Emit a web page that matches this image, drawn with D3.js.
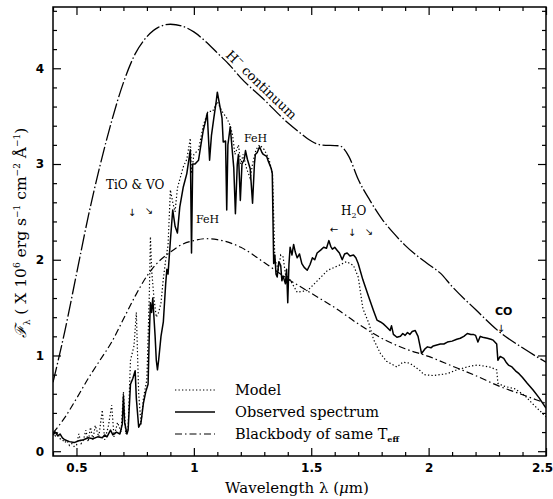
<!DOCTYPE html>
<html><head><meta charset="utf-8">
<script src="https://cdn.jsdelivr.net/npm/d3@7"></script>
<style>
html,body{margin:0;padding:0;background:#fff;}
svg{display:block;}
</style></head>
<body>
<svg id="chart" width="553" height="499"></svg>
<script>
// ---- data ----
const hMinusContinuum = [[0.40,0.72],[0.45,1.25],[0.50,1.85],[0.55,2.45],[0.60,2.98],[0.65,3.45],[0.70,3.85],[0.75,4.15],[0.80,4.33],[0.85,4.43],[0.90,4.46],[0.95,4.44],[1.00,4.38],[1.05,4.28],[1.10,4.16],[1.15,4.04],[1.20,3.90],[1.30,3.67],[1.40,3.43],[1.45,3.33],[1.50,3.24],[1.54,3.20],[1.62,3.19],[1.66,3.08],[1.70,2.84],[1.75,2.62],[1.80,2.43],[1.85,2.28],[1.90,2.15],[2.00,1.95],[2.05,1.86],[2.10,1.72],[2.20,1.48],[2.30,1.25],[2.40,1.08],[2.50,0.93]];

const blackbody = [[0.40,0.19],[0.45,0.35],[0.50,0.55],[0.55,0.76],[0.60,0.95],[0.65,1.14],[0.70,1.38],[0.75,1.62],[0.80,1.83],[0.85,1.98],[0.90,2.08],[0.95,2.16],[1.00,2.20],[1.05,2.22],[1.10,2.21],[1.20,2.13],[1.30,1.97],[1.40,1.80],[1.50,1.65],[1.60,1.50],[1.70,1.33],[1.80,1.18],[1.90,1.07],[2.00,0.99],[2.10,0.89],[2.20,0.79],[2.30,0.68],[2.40,0.59],[2.50,0.50]];

const observed = [[0.400,0.17],[0.41,0.20],[0.42,0.16],[0.43,0.18],[0.44,0.14],[0.45,0.12],[0.47,0.10],[0.49,0.09],[0.51,0.11],[0.53,0.12],[0.55,0.14],[0.57,0.13],[0.59,0.15],[0.61,0.14],[0.62,0.17],[0.63,0.15],[0.645,0.22],[0.655,0.17],[0.67,0.20],[0.685,0.18],[0.695,0.28],[0.70,0.58],[0.705,0.30],[0.715,0.18],[0.72,0.22],[0.73,0.70],[0.74,0.76],[0.75,0.84],[0.755,0.55],[0.765,0.25],[0.775,0.30],[0.785,0.50],[0.795,0.62],[0.805,0.70],[0.81,1.20],[0.815,1.55],[0.82,1.45],[0.825,1.60],[0.83,1.40],[0.835,1.20],[0.84,0.95],[0.845,0.85],[0.85,0.95],[0.86,1.20],[0.87,1.35],[0.88,1.75],[0.885,1.90],[0.89,1.85],[0.90,2.20],[0.91,2.52],[0.92,2.35],[0.93,2.28],[0.94,2.55],[0.955,2.76],[0.97,2.90],[0.985,3.15],[0.99,2.07],[0.995,3.00],[1.005,3.00],[1.02,3.04],[1.03,3.20],[1.04,3.35],[1.05,3.45],[1.057,3.53],[1.067,3.04],[1.075,3.30],[1.085,3.48],[1.095,3.65],[1.10,3.75],[1.12,3.48],[1.125,3.23],[1.135,3.24],[1.14,2.52],[1.145,3.20],[1.155,3.39],[1.165,3.10],[1.17,2.96],[1.177,2.48],[1.185,3.00],[1.19,3.10],[1.198,2.62],[1.205,3.00],[1.215,3.05],[1.22,3.14],[1.228,3.05],[1.24,2.95],[1.25,2.59],[1.258,3.00],[1.262,3.10],[1.27,3.12],[1.28,3.18],[1.29,3.12],[1.296,3.10],[1.31,3.08],[1.317,3.03],[1.33,2.95],[1.334,2.90],[1.34,1.96],[1.345,2.05],[1.35,1.85],[1.355,1.82],[1.362,1.98],[1.37,1.94],[1.375,1.78],[1.38,1.83],[1.39,1.75],[1.395,1.90],[1.40,1.55],[1.405,1.95],[1.41,2.13],[1.418,2.05],[1.425,2.16],[1.432,2.08],[1.44,2.02],[1.45,2.06],[1.46,1.96],[1.47,1.92],[1.483,1.89],[1.495,1.95],[1.505,2.02],[1.515,2.00],[1.525,2.07],[1.54,2.10],[1.553,2.13],[1.565,2.12],[1.575,2.20],[1.583,2.14],[1.59,2.11],[1.60,2.13],[1.61,2.10],[1.62,2.07],[1.632,2.00],[1.642,2.06],[1.653,2.07],[1.665,2.04],[1.68,2.05],[1.69,2.02],[1.70,1.96],[1.72,1.79],[1.745,1.61],[1.765,1.47],[1.78,1.37],[1.795,1.35],[1.807,1.33],[1.82,1.30],[1.836,1.26],[1.842,1.31],[1.85,1.22],[1.865,1.19],[1.88,1.20],[1.89,1.23],[1.90,1.21],[1.91,1.24],[1.92,1.22],[1.93,1.25],[1.943,1.26],[1.955,1.20],[1.97,1.02],[1.985,1.07],[1.995,1.09],[2.01,1.08],[2.02,1.10],[2.035,1.11],[2.05,1.12],[2.065,1.12],[2.08,1.14],[2.10,1.15],[2.12,1.17],[2.135,1.18],[2.15,1.20],[2.165,1.23],[2.18,1.22],[2.19,1.22],[2.20,1.21],[2.21,1.14],[2.22,1.20],[2.23,1.19],[2.25,1.18],[2.265,1.17],[2.275,1.16],[2.29,1.12],[2.295,0.95],[2.305,0.99],[2.32,0.97],[2.33,0.93],[2.34,0.90],[2.355,0.88],[2.37,0.84],[2.385,0.81],[2.40,0.77],[2.42,0.71],[2.445,0.64],[2.47,0.56],[2.50,0.45]];

const model = [[0.40,0.20],[0.41,0.16],[0.42,0.19],[0.43,0.13],[0.44,0.12],[0.45,0.09],[0.46,0.11],[0.47,0.06],[0.48,0.08],[0.49,0.05],[0.50,0.06],[0.51,0.18],[0.52,0.08],[0.53,0.12],[0.54,0.22],[0.55,0.10],[0.56,0.25],[0.57,0.12],[0.58,0.27],[0.595,0.15],[0.61,0.43],[0.62,0.12],[0.635,0.25],[0.65,0.48],[0.66,0.15],[0.675,0.30],[0.69,0.20],[0.70,0.62],[0.71,0.18],[0.72,0.25],[0.73,0.95],[0.745,1.10],[0.755,1.45],[0.765,0.60],[0.775,0.28],[0.785,0.55],[0.80,0.75],[0.81,1.60],[0.815,2.24],[0.82,1.90],[0.83,1.60],[0.84,1.40],[0.85,1.45],[0.86,1.55],[0.87,1.80],[0.88,2.00],[0.89,2.15],[0.90,2.73],[0.91,2.60],[0.92,2.50],[0.93,2.75],[0.955,2.97],[0.97,3.05],[0.985,3.27],[0.99,2.90],[1.00,3.10],[1.02,3.15],[1.04,3.40],[1.06,3.55],[1.08,3.55],[1.10,3.65],[1.12,3.55],[1.14,3.48],[1.155,3.40],[1.165,3.30],[1.175,3.10],[1.19,3.20],[1.20,3.00],[1.21,3.10],[1.225,2.95],[1.24,2.85],[1.25,3.00],[1.265,3.15],[1.28,3.20],[1.30,3.15],[1.32,3.05],[1.335,2.90],[1.345,2.00],[1.36,1.90],[1.37,2.05],[1.38,2.03],[1.39,1.85],[1.41,1.79],[1.44,1.66],[1.485,1.68],[1.53,1.79],[1.57,1.89],[1.617,1.94],[1.65,1.98],[1.68,1.94],[1.70,1.82],[1.72,1.49],[1.745,1.34],[1.765,1.17],[1.795,1.02],[1.82,0.94],[1.865,0.88],[1.89,0.93],[1.92,0.92],[1.96,0.85],[1.98,0.80],[2.02,0.79],[2.08,0.81],[2.12,0.85],[2.18,0.89],[2.21,0.90],[2.26,0.88],[2.29,0.85],[2.295,0.71],[2.32,0.68],[2.37,0.65],[2.41,0.58],[2.445,0.49],[2.50,0.36]];

const xMajorTicks = [0.5, 1, 1.5, 2, 2.5];
const xTickLabels = ["0.5", "1", "1.5", "2", "2.5"];
const xMinorTicks = [0.4,0.6,0.7,0.8,0.9,1.1,1.2,1.3,1.4,1.6,1.7,1.8,1.9,2.1,2.2,2.3,2.4];
const yMajorTicks = [0, 1, 2, 3, 4];
const yTickLabels = ["0", "1", "2", "3", "4"];
const yMinorTicks = [0.2,0.4,0.6,0.8,1.2,1.4,1.6,1.8,2.2,2.4,2.6,2.8,3.2,3.4,3.6,3.8,4.2,4.4,4.6];
const legendLabels = ["Model", "Observed spectrum", "Blackbody of same T"];

// ---- layout ----
const svg = d3.select("#chart");
const L = 53, R = 546, T = 7, B = 456;
const x = d3.scaleLinear().domain([0.4, 2.5]).range([L, R]);
const y = d3.scaleLinear().domain([-0.05, 4.64]).range([B, T]);

const serif = "'DejaVu Serif', serif";
const sans = "'DejaVu Sans', sans-serif";

svg.append("clipPath").attr("id","clip").append("rect")
  .attr("x",L).attr("y",T).attr("width",R-L).attr("height",B-T);

const line = d3.line().x(d=>x(d[0])).y(d=>y(d[1]));
const smooth = d3.line().x(d=>x(d[0])).y(d=>y(d[1])).curve(d3.curveMonotoneX);

const g = svg.append("g").attr("clip-path","url(#clip)");
g.append("path").datum(hMinusContinuum).attr("d",smooth).attr("fill","none")
  .attr("stroke","#000").attr("stroke-width",1.3).attr("stroke-dasharray","16,2.5,1.5,2.5");
g.append("path").datum(blackbody).attr("d",smooth).attr("fill","none")
  .attr("stroke","#000").attr("stroke-width",1.2).attr("stroke-dasharray","7,3,1.5,3");
g.append("path").datum(model).attr("d",line).attr("fill","none")
  .attr("stroke","#000").attr("stroke-width",1.2).attr("stroke-dasharray","1.3,2.2");
g.append("path").datum(observed).attr("d",line).attr("fill","none")
  .attr("stroke","#000").attr("stroke-width",1.5).attr("stroke-linejoin","round");

// ---- axes (ticks inside, on all four sides) ----
function styleAxis(sel){
  sel.select(".domain").remove();
  sel.selectAll(".tick line").attr("stroke","#000").attr("stroke-width",1.2);
}
const xMajB = d3.axisBottom(x).tickValues(xMajorTicks).tickSize(-8).tickPadding(7)
  .tickFormat((d,i)=>xTickLabels[i]);
const bx = svg.append("g").attr("transform",`translate(0,${B})`).call(xMajB);
styleAxis(bx);
bx.selectAll("text").attr("font-family",sans).attr("font-weight","bold").attr("font-size",12).attr("fill","#000");
bx.selectAll("text").filter((d,i)=>i===xMajorTicks.length-1).attr("dx",-4);
svg.append("g").attr("transform",`translate(0,${B})`)
  .call(d3.axisBottom(x).tickValues(xMinorTicks).tickSize(-4).tickFormat("")).call(styleAxis);
svg.append("g").attr("transform",`translate(0,${T})`)
  .call(d3.axisTop(x).tickValues(xMajorTicks).tickSize(-8).tickFormat("")).call(styleAxis);
svg.append("g").attr("transform",`translate(0,${T})`)
  .call(d3.axisTop(x).tickValues(xMinorTicks).tickSize(-4).tickFormat("")).call(styleAxis);

const ly = svg.append("g").attr("transform",`translate(${L},0)`)
  .call(d3.axisLeft(y).tickValues(yMajorTicks).tickSize(-8).tickPadding(9).tickFormat((d,i)=>yTickLabels[i]));
styleAxis(ly);
ly.selectAll("text").attr("font-family",sans).attr("font-weight","bold").attr("font-size",12).attr("fill","#000");
svg.append("g").attr("transform",`translate(${L},0)`)
  .call(d3.axisLeft(y).tickValues(yMinorTicks).tickSize(-4).tickFormat("")).call(styleAxis);
svg.append("g").attr("transform",`translate(${R},0)`)
  .call(d3.axisRight(y).tickValues(yMajorTicks).tickSize(-8).tickFormat("")).call(styleAxis);
svg.append("g").attr("transform",`translate(${R},0)`)
  .call(d3.axisRight(y).tickValues(yMinorTicks).tickSize(-4).tickFormat("")).call(styleAxis);

svg.append("rect").attr("x",L).attr("y",T).attr("width",R-L).attr("height",B-T)
  .attr("fill","none").attr("stroke","#000").attr("stroke-width",1.5);

// ---- axis titles ----
const xt = svg.append("text").attr("x",297).attr("y",493).attr("text-anchor","middle")
  .attr("font-family",serif).attr("font-size",15).attr("fill","#000");
xt.append("tspan").text("Wavelength λ  (");
xt.append("tspan").attr("font-style","italic").text("μ");
xt.append("tspan").text("m)");

const yt = svg.append("text").attr("transform","translate(26,233) rotate(-90)")
  .attr("text-anchor","middle").attr("font-family",serif).attr("font-size",15.5).attr("fill","#000");
yt.append("tspan").attr("font-style","italic").text("ℱ");
yt.append("tspan").attr("font-size",9).attr("dy",4).text("λ");
yt.append("tspan").attr("dy",-4).text(" ( X 10");
yt.append("tspan").attr("font-size",9).attr("dy",-6).text("6");
yt.append("tspan").attr("dy",6).text(" erg s");
yt.append("tspan").attr("font-size",9).attr("dy",-6).text("−1");
yt.append("tspan").attr("dy",6).text(" cm");
yt.append("tspan").attr("font-size",9).attr("dy",-6).text("−2");
yt.append("tspan").attr("dy",6).text(" Å");
yt.append("tspan").attr("font-size",9).attr("dy",-6).text("−1");
yt.append("tspan").attr("dy",6).text(")");

// ---- legend ----
const legendStyles = [
  {dash:"1.3,2.2", w:1.2},
  {dash:null, w:1.5},
  {dash:"7,3,1.5,3", w:1.2}
];
const legendY = [390, 412, 434];
legendLabels.forEach((lab,i)=>{
  const ln = svg.append("line").attr("x1",175).attr("x2",215)
    .attr("y1",legendY[i]).attr("y2",legendY[i])
    .attr("stroke","#000").attr("stroke-width",legendStyles[i].w);
  if(legendStyles[i].dash) ln.attr("stroke-dasharray",legendStyles[i].dash);
  const t = svg.append("text").attr("x",235).attr("y",legendY[i]+5)
    .attr("font-family",serif).attr("font-size",14.5).attr("fill","#000").text(lab);
  if(i===2) t.append("tspan").attr("font-size",8).attr("dy",3).attr("font-weight","bold").text("eff");
});

// ---- annotations ----
function ann(txt,xp,yp,opts={}){
  return svg.append("text").attr("x",xp).attr("y",yp)
    .attr("font-family",opts.font||serif).attr("font-size",opts.size||11.5)
    .attr("font-weight",opts.weight||"normal")
    .attr("text-anchor",opts.anchor||"start").attr("fill","#000").text(txt);
}
ann("TiO & VO",106,189,{size:12});
ann("↓",132,216,{font:sans,size:10,anchor:"middle"});
ann("↘",149,214,{font:sans,size:10,anchor:"middle"});
ann("FeH",196,223,{size:11});
ann("FeH",244,142,{size:11});
const h2o = ann("H",341,215,{size:12});
h2o.append("tspan").attr("font-size",8).attr("dy",3).text("2");
h2o.append("tspan").attr("dy",-3).text("O");
ann("←",334,233,{font:sans,size:10,anchor:"middle"});
ann("↓",352,236,{font:sans,size:10,anchor:"middle"});
ann("↘",369,235,{font:sans,size:10,anchor:"middle"});
ann("CO",495,315,{font:sans,size:11,weight:"bold"});
ann("↓",501,332,{font:sans,size:10,anchor:"middle"});

const hm = svg.append("text").attr("transform","translate(225,56) rotate(44)")
  .attr("font-family",serif).attr("font-size",13).attr("fill","#000");
hm.append("tspan").text("H");
hm.append("tspan").attr("font-size",8).attr("dy",-6).text("−");
hm.append("tspan").attr("dy",6).text(" continuum");
</script>
</body></html>
